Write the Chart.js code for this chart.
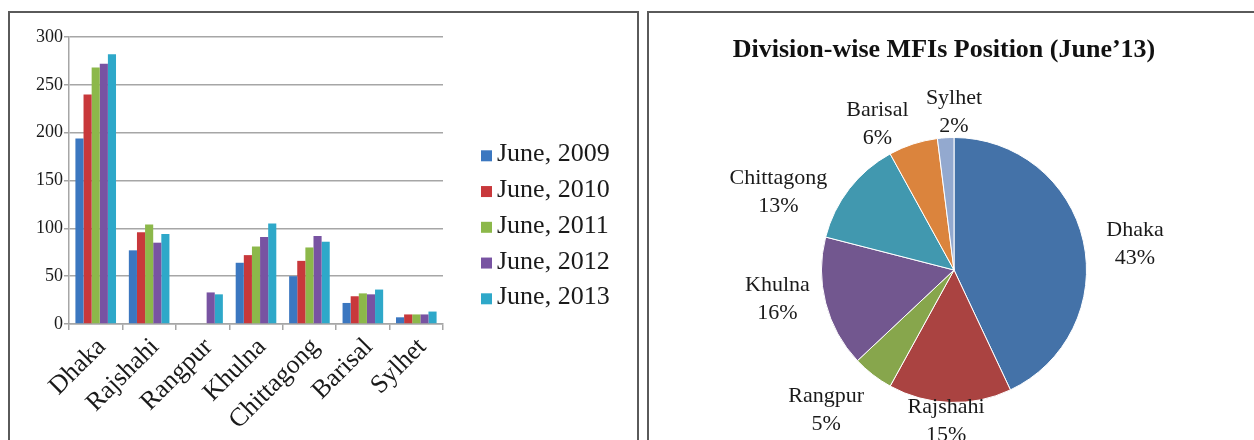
<!DOCTYPE html>
<html>
<head>
<meta charset="utf-8">
<script src="https://cdn.jsdelivr.net/npm/chart.js@4/dist/chart.umd.min.js"></script>
<style>
  html, body { margin: 0; padding: 0; background: #ffffff; width: 1254px; height: 440px; overflow: hidden; }
  .panel { position: absolute; box-sizing: border-box; border: 2px solid #5a5a5a; }
  #leftPanel { left: 8px; top: 11px; width: 631px; height: 460px; }
  #rightPanel { left: 647px; top: 11px; width: 640px; height: 460px; }
  .holder { position: absolute; }
  #leftHolder { left: 10px; top: 13px; width: 627px; height: 427px; }
  #rightHolder { left: 649px; top: 13px; width: 605px; height: 427px; }
</style>
</head>
<body>
<div class="panel" id="leftPanel"></div>
<div class="panel" id="rightPanel"></div>
<div class="holder" id="leftHolder"><canvas id="barChart"></canvas></div>
<div class="holder" id="rightHolder"><canvas id="pieChart"></canvas></div>
<script>
// ---------- data ----------
const divisions = ['Dhaka', 'Rajshahi', 'Rangpur', 'Khulna', 'Chittagong', 'Barisal', 'Sylhet'];
const seriesNames = ['June, 2009', 'June, 2010', 'June, 2011', 'June, 2012', 'June, 2013'];
const june2009 = [194, 77, null, 64, 50, 22, 7];
const june2010 = [240, 96, null, 72, 66, 29, 10];
const june2011 = [268, 104, null, 81, 80, 32, 10];
const june2012 = [272, 85, 33, 91, 92, 31, 10];
const june2013 = [282, 94, 31, 105, 86, 36, 13];
const yTicks = [0, 50, 100, 150, 200, 250, 300];
const pieTitle = 'Division-wise MFIs Position (June\u201913)';
const pieShares = [43, 15, 5, 16, 13, 6, 2];

// ---------- styles ----------
const barColors = ['#3b77c0', '#c8383b', '#8cb84a', '#7853a2', '#2ea8c9'];
const pieColors = ['#4472a8', '#aa4341', '#87a64c', '#72578f', '#4198af', '#db843d', '#93a9cf'];
const SERIF = '"Liberation Serif", "Times New Roman", serif';
// label placement relative to each slice: angle nudge (deg) and radius factor
const pieLabelNudge = [[4.5, 1.38], [1.2, 1.14], [4.6, 1.43], [5.1, 1.35], [-13.9, 1.45], [-9.8, 1.24], [3.6, 1.19]];

const seriesValues = [june2009, june2010, june2011, june2012, june2013];

// custom legend (square + text) at the right of the bar chart
const sideLegend = {
  id: 'sideLegend',
  afterDraw(chart) {
    const ctx = chart.ctx;
    const ds = chart.data.datasets;
    const n = ds.length;
    const step = 35.75;
    const x0 = chart.chartArea.right + 38;
    const midBase = chart.height / 2 + 6.3;
    ctx.save();
    ctx.font = '26px ' + SERIF;
    ctx.textBaseline = 'alphabetic';
    ctx.textAlign = 'left';
    ds.forEach((d, i) => {
      const yb = midBase + (i - (n - 1) / 2) * step;
      ctx.fillStyle = d.backgroundColor;
      ctx.fillRect(x0, yb - 11, 11, 11);
      ctx.fillStyle = '#1a1a1a';
      ctx.fillText(d.label, x0 + 16, yb);
    });
    ctx.restore();
  }
};

new Chart(document.getElementById('barChart'), {
  type: 'bar',
  data: {
    labels: divisions,
    datasets: seriesNames.map((name, i) => ({
      label: name,
      data: seriesValues[i],
      backgroundColor: barColors[i],
      borderWidth: 0,
      categoryPercentage: 0.76,
      barPercentage: 1.0
    }))
  },
  options: {
    responsive: true,
    maintainAspectRatio: false,
    animation: false,
    devicePixelRatio: 1,
    layout: { padding: { top: 24, right: 194, left: 0, bottom: 0 } },
    plugins: { legend: { display: false }, tooltip: { enabled: false }, title: { display: false } },
    scales: {
      x: {
        offset: true,
        grid: { display: true, drawOnChartArea: false, drawTicks: true, tickLength: 6, color: '#a6a6a6', lineWidth: 1.5 },
        border: { display: true, color: '#a6a6a6', width: 1.5 },
        ticks: {
          autoSkip: false, minRotation: 45, maxRotation: 45, padding: 2, labelOffset: 6,
          color: '#1a1a1a', font: { family: SERIF, size: 26 }
        },
        afterFit(scale) { scale.height = 116; }
      },
      y: {
        min: 0, max: 300,
        afterBuildTicks(scale) { scale.ticks = yTicks.map(v => ({ value: v })); },
        grid: { color: '#a6a6a6', lineWidth: 1.5, drawTicks: true, tickLength: 5 },
        border: { display: true, color: '#a6a6a6', width: 1.5 },
        ticks: { padding: 1, color: '#1a1a1a', font: { family: SERIF, size: 18 } },
        afterFit(scale) { scale.width = 59; }
      }
    }
  },
  plugins: [sideLegend]
});

// pie labels + title
const pieText = {
  id: 'pieText',
  afterDraw(chart) {
    const ctx = chart.ctx;
    const meta = chart.getDatasetMeta(0);
    const lbls = chart.data.labels;
    const vals = chart.data.datasets[0].data;
    ctx.save();
    ctx.fillStyle = '#111';
    ctx.textAlign = 'center';
    ctx.textBaseline = 'middle';
    ctx.font = 'bold 26px ' + SERIF;
    ctx.fillText(pieTitle, 295, 37);
    ctx.font = '22px ' + SERIF;
    ctx.fillStyle = '#1a1a1a';
    meta.data.forEach((arc, i) => {
      const p = arc.getProps(['x', 'y', 'startAngle', 'endAngle', 'outerRadius'], true);
      const mid = (p.startAngle + p.endAngle) / 2 + pieLabelNudge[i][0] * Math.PI / 180;
      const rr = p.outerRadius * pieLabelNudge[i][1];
      const cx = p.x + Math.cos(mid) * rr;
      const cy = p.y + Math.sin(mid) * rr;
      ctx.fillText(lbls[i], cx, cy - 14);
      ctx.fillText(vals[i] + '%', cx, cy + 14);
    });
    ctx.restore();
  }
};

new Chart(document.getElementById('pieChart'), {
  type: 'pie',
  data: {
    labels: divisions,
    datasets: [{ data: pieShares, backgroundColor: pieColors, borderColor: '#ffffff', borderWidth: 1 }]
  },
  options: {
    responsive: true,
    maintainAspectRatio: false,
    animation: false,
    devicePixelRatio: 1,
    layout: { padding: { left: 172, right: 167, top: 124, bottom: 37 } },
    plugins: { legend: { display: false }, tooltip: { enabled: false }, title: { display: false } }
  },
  plugins: [pieText]
});
</script>
</body>
</html>
